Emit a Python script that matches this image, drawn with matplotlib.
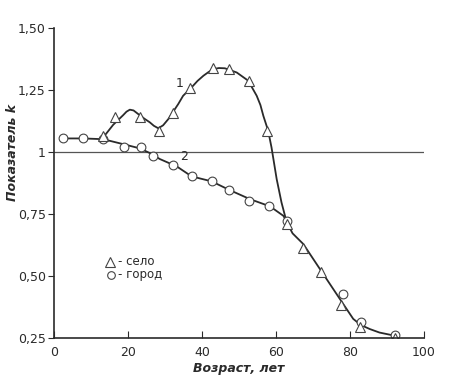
import matplotlib.pyplot as plt

# markers
selo_x = [13.2, 16.5, 23.2, 28.5, 32.1, 36.9, 43.0, 47.3, 52.7, 57.6, 63.0, 67.4, 72.2, 77.7, 82.7, 92.2]
selo_y = [1.065, 1.14, 1.14, 1.086, 1.157, 1.26, 1.34, 1.337, 1.285, 1.083, 0.71, 0.612, 0.515, 0.383, 0.293, 0.249]
gorod_x = [2.5, 7.9, 13.2, 18.8, 23.4, 26.8, 32.2, 37.2, 42.6, 47.3, 52.7, 58.1, 63.0, 78.2, 82.9, 92.2]
gorod_y = [1.055, 1.055, 1.052, 1.019, 1.019, 0.985, 0.948, 0.902, 0.882, 0.848, 0.804, 0.781, 0.723, 0.427, 0.316, 0.262]

# hand drawn curves, traced
curve1_x = [13.3, 16.0, 18.7, 19.6, 20.5, 21.5, 22.8, 24.5, 25.9, 27.0, 28.2, 29.5, 30.9, 33.6, 34.9, 37.2,
            38.8, 40.4, 41.8, 43.1, 44.6, 46.2, 49.4, 52.5, 54.8, 55.8, 56.6, 57.9, 58.8, 59.5, 60.2, 61.5,
            62.9, 64.5, 67.4, 71.9, 77.3, 80.9, 83.0, 85.4, 88.0, 92.2]
curve1_y = [1.059, 1.11, 1.149, 1.163, 1.171, 1.168, 1.153, 1.134, 1.120, 1.106, 1.096, 1.108, 1.133, 1.194, 1.227, 1.261,
            1.287, 1.308, 1.323, 1.335, 1.339, 1.338, 1.321, 1.288, 1.227, 1.19, 1.146, 1.086, 1.019, 0.955, 0.891, 0.797,
            0.717, 0.672, 0.629, 0.528, 0.407, 0.327, 0.302, 0.286, 0.272, 0.259]
curve2_x = [2.5, 7.9, 13.3, 18.7, 23.2, 25.9, 28.6, 33.2, 37.2, 42.6, 47.3, 53.0, 58.4, 62.0, 63.3]
curve2_y = [1.055, 1.055, 1.052, 1.032, 1.015, 0.996, 0.972, 0.942, 0.902, 0.882, 0.848, 0.810, 0.781, 0.743, 0.710]

yticks = [0.25, 0.50, 0.75, 1.0, 1.25, 1.50]
ytick_labels = ['0,25', '0,50', '0,75', '1', '1,25', '1,50']
xticks = [0, 20, 40, 60, 80, 100]

ink = '#2a2a2a'

fig = plt.figure(figsize=(4.5, 3.8), dpi=100)
ax = fig.add_axes([0.12, 0.1105, 0.822, 0.8155])

ax.plot([0, 100], [1, 1], color='#555555', lw=0.9)
ax.plot(curve1_x, curve1_y, color=ink, lw=1.3)
ax.plot(curve2_x, curve2_y, color=ink, lw=1.3)
ax.plot(gorod_x, gorod_y, 'o', ms=6.3, mfc='white', mec='#444444', mew=0.8, ls='none')
ax.plot(selo_x, selo_y, '^', ms=7.5, mfc='white', mec='#444444', mew=0.8, ls='none')

ax.text(34.0, 1.25, '1', fontsize=9, color=ink, ha='center', va='bottom')
ax.text(35.2, 0.955, '2', fontsize=9, color=ink, ha='center', va='bottom')

# legend drawn by hand like the original
ax.plot([15.1], [0.558], '^', ms=7.5, mfc='white', mec='#444444', mew=0.8)
ax.plot([15.5], [0.505], 'o', ms=5.5, mfc='white', mec='#444444', mew=0.8)
ax.text(17.3, 0.558, '- село', fontsize=8.5, color=ink, va='center')
ax.text(17.3, 0.505, '- город', fontsize=8.5, color=ink, va='center')

ax.set_xlim(0, 100)
ax.set_ylim(0.25, 1.5)
ax.set_xticks(xticks)
ax.set_yticks(yticks)
ax.set_yticklabels(ytick_labels)
ax.tick_params(axis='x', direction='in', length=5, colors=ink, labelsize=9, pad=6)
ax.tick_params(axis='y', direction='out', length=4, colors=ink, labelsize=9, pad=2)
for s in ['top', 'right']:
    ax.spines[s].set_visible(False)
for s in ['left', 'bottom']:
    ax.spines[s].set_color(ink)
    ax.spines[s].set_linewidth(1.2)

ax.set_xlabel('Возраст, лет', fontsize=9, fontstyle='italic', fontweight='bold', color=ink, labelpad=2)
ax.set_ylabel('Показатель k', fontsize=9, fontstyle='italic', fontweight='bold', color=ink)
ax.yaxis.set_label_coords(-0.095, 0.6)

fig.savefig('out.png', dpi=100)
